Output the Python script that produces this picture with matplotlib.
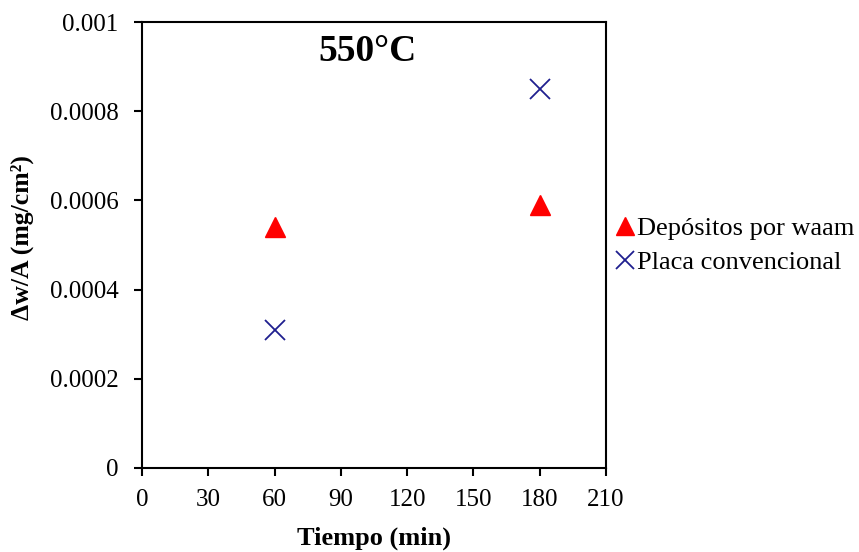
import matplotlib.pyplot as plt
from matplotlib.ticker import FixedLocator

plt.rcParams['font.family'] = ['Liberation Serif', 'DejaVu Serif']

tiempo = [60, 180]
waam = [0.00054, 0.00059]
placa = [0.00031, 0.00085]
xticks = [0, 30, 60, 90, 120, 150, 180, 210]
yticks = [0, 0.0002, 0.0004, 0.0006, 0.0008, 0.001]
ytick_labels = ['0', '0.0002', '0.0004', '0.0006', '0.0008', '0.001']

fig = plt.figure(figsize=(8.59, 5.52), dpi=100)
ax = fig.add_axes([0.1653, 0.1522, 0.5402, 0.8078])

ax.plot(tiempo, waam, '^', color='red', markersize=14, linestyle='none', label='Depósitos por waam')
ax.plot(tiempo, placa, 'x', color='#1f1f8f', markersize=14, markeredgewidth=1.3, linestyle='none', label='Placa convencional')

ax.set_xlim(0, 210)
ax.set_ylim(0, 0.001)
ax.xaxis.set_major_locator(FixedLocator(xticks))
ax.set_yticks(yticks)
ax.set_yticklabels(ytick_labels)
ax.tick_params(direction='out', length=6, width=1.5, labelsize=18)
ax.tick_params(axis='y', pad=11)
ax.tick_params(axis='x', pad=9)
for s in ax.spines.values():
    s.set_linewidth(1.5)

ax.set_xlabel('Tiempo (min)', fontsize=19, fontweight='bold', labelpad=11)
ax.set_ylabel('Δw/A (mg/cm²)', fontsize=18.5, fontweight='bold', va='center')
ax.yaxis.set_label_coords(-0.257, 0.516)
ax.text(0.487, 0.935, '550°C', transform=ax.transAxes, ha='center', va='center',
        fontsize=27, fontweight='bold')

fig.legend(loc='center left', bbox_to_anchor=(0.7136, 0.555), frameon=False,
           fontsize=19, handletextpad=0.0, handlelength=0.9, labelspacing=0.4,
           markerscale=0.9, borderaxespad=0, borderpad=0)

fig.savefig('out.png', dpi=100)
